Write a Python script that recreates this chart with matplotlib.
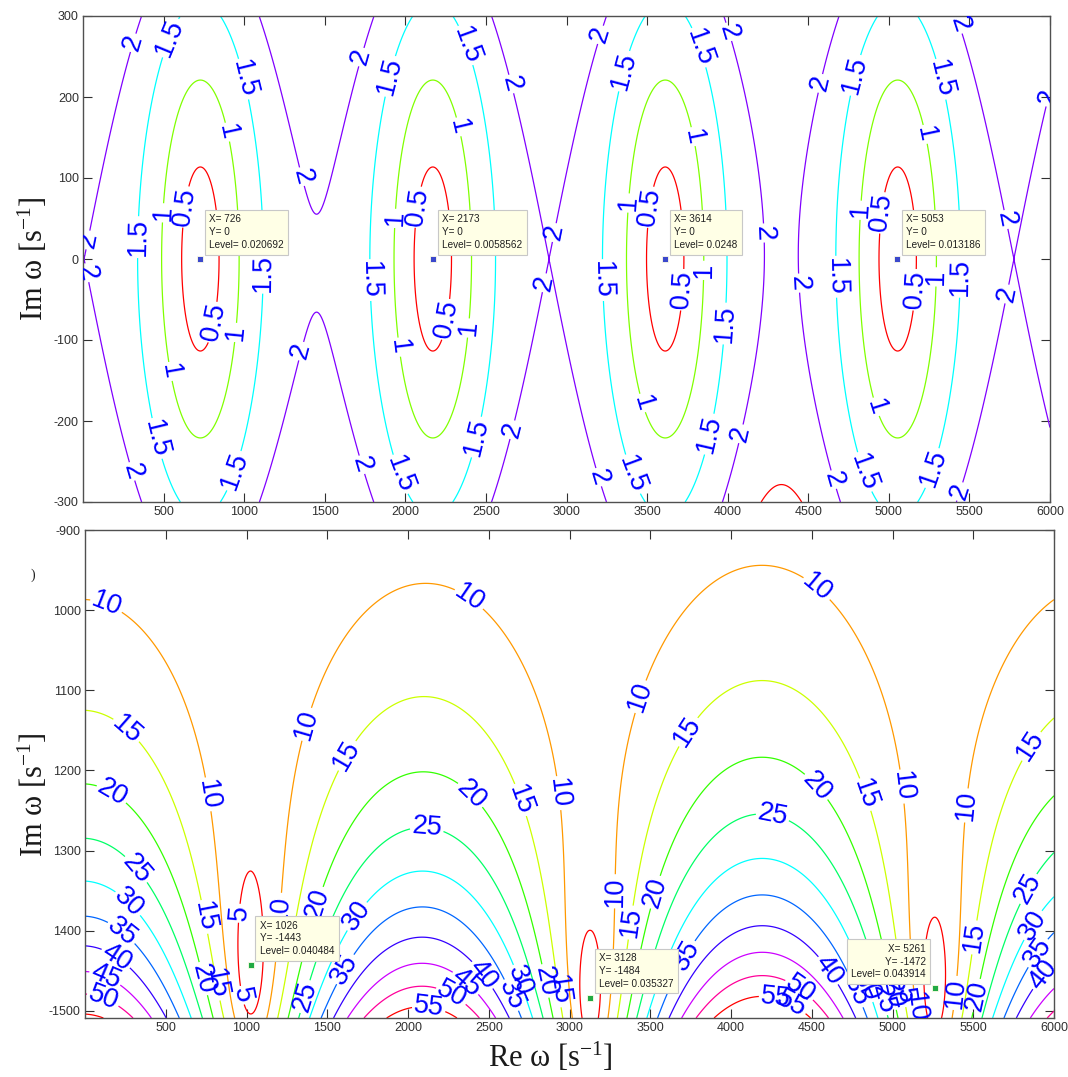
import numpy as np
import matplotlib
matplotlib.use("Agg")
import matplotlib.pyplot as plt
from matplotlib.colors import hsv_to_rgb

plt.rcParams['font.family'] = ['Liberation Sans', 'DejaVu Sans']
plt.rcParams['mathtext.fontset'] = 'custom'
plt.rcParams['mathtext.rm'] = 'Liberation Serif'
plt.rcParams['mathtext.it'] = 'Liberation Serif:italic'

# ------------------------------------------------------------------ data
top_levels = [0.5, 1.0, 1.5, 2.0, 2.5]
top_labelled_levels = [0.5, 1.0, 1.5, 2.0]
bottom_levels = [5, 10, 15, 20, 25, 30, 35, 40, 45, 50, 55]

top_tip_x = [726, 2173, 3614, 5053]
top_tip_y = [0, 0, 0, 0]
top_tip_level = ["0.020692", "0.0058562", "0.0248", "0.013186"]

bottom_tip_x = [1026, 3128, 5261]
bottom_tip_y = [-1443, -1484, -1472]
bottom_tip_level = ["0.040484", "0.035327", "0.043914"]
bottom_tip_side = ["right", "right", "left"]

x_ticks = [500, 1000, 1500, 2000, 2500, 3000, 3500, 4000, 4500, 5000, 5500, 6000]
x_ticklabels = ["500", "1000", "1500", "2000", "2500", "3000", "3500", "4000",
                "4500", "5000", "5500", "6000"]
top_y_ticks = [-300, -200, -100, 0, 100, 200, 300]
top_y_ticklabels = ["-300", "-200", "-100", "0", "100", "200", "300"]
bottom_y_ticks = [-1500, -1400, -1300, -1200, -1100, -1000, -900]
bottom_y_ticklabels = ["-1500", "1400", "1300", "1200", "1100", "1000", "-900"]

# arch scale of the lower field (at half-way points between zeros)
arch_n = [-0.5, 0.5, 1.5, 2.5]
arch_k = [56.0, 58.1, 61.0, 57.5]

# ------------------------------------------------------------------ fields
xg = np.linspace(0, 6000, 1501)

# top field: |2 sin(pi (w - w0)/period)| with slight amplitude modulation
yt = np.linspace(-300, 300, 601)
Xt, Yt = np.meshgrid(xg, yt)
pt = np.polyfit(top_tip_x, np.arange(len(top_tip_x)), 1)
period_t = 1.0 / pt[0]
ut = np.pi * np.polyval(pt, Xt)
vt = np.pi * (Yt - np.mean(top_tip_y)) / period_t
mid1 = 0.5 * (top_tip_x[0] + top_tip_x[1])
mid3 = 0.5 * (top_tip_x[2] + top_tip_x[3])
amp = (2.0
       - (0.0174 - 0.00005 * Yt) * np.exp(-((Xt - mid1) / 300.0) ** 2)
       + 0.055 * np.exp(-((Xt - mid3 + 8) / 350.0) ** 2) * np.exp(-(Yt / 250.0) ** 2)
       + 0.165 * np.exp(-((Xt - mid3) / 300.0) ** 2) * np.exp((-300.0 - Yt) / 80.0))
F_top = np.sqrt(amp ** 2 * np.sin(ut) ** 2 + 4.0 * np.sinh(vt) ** 2)

# bottom field
yb = np.linspace(-1509, -900, 610)
Xb, Yb = np.meshgrid(xg, yb)
pb = np.polyfit(bottom_tip_x, np.arange(len(bottom_tip_x)), 2)
nb = np.polyval(pb, Xb)
period_b = (bottom_tip_x[-1] - bottom_tip_x[0]) / (len(bottom_tip_x) - 1)
yz = np.interp(Xb, bottom_tip_x, bottom_tip_y)
ub = np.pi * nb
vb = np.pi * (Yb - yz) / period_b
Kb = np.polyval(np.polyfit(arch_n, arch_k, 3), nb)
F_bot = Kb * np.exp(-0.0037 * (Yb + 1510.0)) * np.sqrt(np.sin(ub) ** 2 + np.sinh(vb) ** 2)

# colours (hsv colormap over the level range)
top_colors = [hsv_to_rgb(((lv - top_levels[0]) / (top_levels[-1] - top_levels[0]) % 1.0, 1, 1))
              for lv in top_levels]
bottom_colors = [hsv_to_rgb(((lv - bottom_levels[0]) / (bottom_levels[-1] - bottom_levels[0]) % 1.0, 1, 1))
                 for lv in bottom_levels]

# label placement (positions only)
top_label_pos = [(310, 267), (540, 273), (974, 221), (881, 156), (1346, 101), (645, 64),
                 (496, 57), (43, 23), (341, 27), (25, -17), (1141, -17), (831, -79),
                 (962, -91), (1377, -115), (509, -140), (428, -223), (273, -264), (974, -264),
                 (1731, 249), (1917, 225), (2351, 262), (2637, 215), (3207, 277), (2308, 162),
                 (2078, 64), (1948, 50), (2941, 32), (1780, -26), (2878, -30), (2264, -75),
                 (2382, -85), (1954, -109), (2444, -220), (2668, -211), (1954, -267), (1731, -254),
                 (3189, -270), (3375, 231), (3517, 64), (3393, 69), (3226, -26), (3468, -178),
                 (3393, -267), (3722, -38), (3778, 258), (3840, -14), (4005, -80),
                 (3983, 279), (3784, 151), (4572, 217), (4789, 227), (5304, 221),
                 (5428, 289), (5205, 153), (4957, 57), (4839, 60), (4211, 32), (4417, -30),
                 (4653, -22), (5161, -38), (5273, -22), (5459, -22), (5708, 48), (5751, -44),
                 (5985, 200), (4913, -183), (4064, -215), (4833, -264), (5298, -260), (4647, -273),
                 (5471, -289), (3859, -215)]
bottom_label_pos = [(136, -992), (2358, -992), (1365, -1142), (229, -1156), (730, -1231),
                    (1634, -1183), (136, -1239), (2346, -1239), (2654, -1240), (2111, -1287),
                    (290, -1328), (4506, -979), (3469, -1110), (3772, -1157), (2907, -1229),
                    (4481, -1229), (4790, -1233), (5025, -1221), (5469, -1244), (5883, -1173),
                    (4241, -1274), (247, -1370), (204, -1408), (173, -1440), (111, -1465),
                    (111, -1486), (710, -1384), (710, -1461), (846, -1465), (938, -1378),
                    (938, -1482), (1204, -1374), (1432, -1365), (1358, -1482), (1654, -1378),
                    (1617, -1449), (2438, -1459), (2333, -1471), (2265, -1482), (2130, -1495),
                    (2673, -1464), (2623, -1482), (2821, -1464), (2951, -1474), (3302, -1351),
                    (3383, -1390), (3549, -1353), (3747, -1434), (4580, -1453), (4444, -1468),
                    (4414, -1477), (4302, -1495), (4753, -1478), (4827, -1470), (4920, -1486),
                    (5000, -1478), (5074, -1474), (5173, -1495), (5401, -1478), (5543, -1482),
                    (5525, -1409), (5852, -1349), (5883, -1395), (5914, -1430), (5938, -1457)]

# ------------------------------------------------------------------ figure
fig = plt.figure(figsize=(10.68, 10.77), dpi=100)
ax1 = fig.add_axes([83 / 1068, 1 - 502 / 1077, 967 / 1068, 486 / 1077])
ax2 = fig.add_axes([85 / 1068, 1 - 1018 / 1077, 969 / 1068, 488 / 1077])

fmt = lambda v: f"{v:g}"
label_font = 19.5

cs1 = ax1.contour(Xt, Yt, F_top, levels=top_levels, colors=top_colors, linewidths=0.9)
ax1.clabel(cs1, levels=top_labelled_levels, manual=top_label_pos, inline=True,
           inline_spacing=2, fontsize=label_font, colors='blue', fmt=fmt)

cs2 = ax2.contour(Xb, Yb, F_bot, levels=bottom_levels, colors=bottom_colors, linewidths=0.9)
ax2.clabel(cs2, manual=bottom_label_pos, inline=True, inline_spacing=2,
           fontsize=label_font, colors='blue', fmt=fmt)

for t in ax1.texts + ax2.texts:
    t.set_clip_on(True)


def data_tip(ax, x, y, level, color, side):
    ax.plot([x], [y], ls='none', marker='s', ms=5, mfc=color, mec='#fffde8', mew=0.6,
            zorder=11)
    txt = f"X= {x}\nY= {y}\nLevel= {level}"
    dx = 9 if side == "right" else -9
    ax.annotate(txt, xy=(x, y), xytext=(dx, 9), textcoords='offset pixels',
                ha='left' if side == "right" else 'right', va='bottom',
                fontsize=7.2, color='#202020', linespacing=1.35, zorder=12,
                bbox=dict(boxstyle='square,pad=0.45', fc='#ffffe6', ec='#c8c8c8', lw=0.8))


for x, y, lv in zip(top_tip_x, top_tip_y, top_tip_level):
    data_tip(ax1, x, y, lv, '#3b48cc', "right")
for x, y, lv, sd in zip(bottom_tip_x, bottom_tip_y, bottom_tip_level, bottom_tip_side):
    data_tip(ax2, x, y, lv, '#22aa44', sd)

for ax, yt_, ytl, ylim in ((ax1, top_y_ticks, top_y_ticklabels, (-300, 300)),
                           (ax2, bottom_y_ticks, bottom_y_ticklabels, (-1509, -900))):
    ax.set_xlim(0, 6000)
    ax.set_ylim(*ylim)
    ax.set_xticks(x_ticks)
    ax.set_xticklabels(x_ticklabels)
    ax.set_yticks(yt_)
    ax.set_yticklabels(ytl)
    ax.tick_params(direction='in', length=6.5, width=0.8, top=True, right=True,
                   labelsize=9, colors='#303030', pad=3)
    for sp in ax.spines.values():
        sp.set_linewidth(1.0)
        sp.set_color('#505050')

lab_kw = dict(family='Liberation Serif', fontsize=22, color='#1a1a1a')
fig.text(33 / 1068, 1 - 259 / 1077, r'Im ω [$\mathrm{s}^{-1}$]', rotation=90,
         ha='center', va='center', **lab_kw)
fig.text(33 / 1068, 1 - 795 / 1077, r'Im ω [$\mathrm{s}^{-1}$]', rotation=90,
         ha='center', va='center', **lab_kw)
fig.text(550 / 1068, 1 - 1057 / 1077, r'Re ω [$\mathrm{s}^{-1}$]',
         ha='center', va='center', **lab_kw)
fig.text(33 / 1068, 1 - 575 / 1077, ')', family='Liberation Serif', fontsize=10,
         ha='center', va='center', color='#1a1a1a')

fig.savefig('out.png', dpi=100)
